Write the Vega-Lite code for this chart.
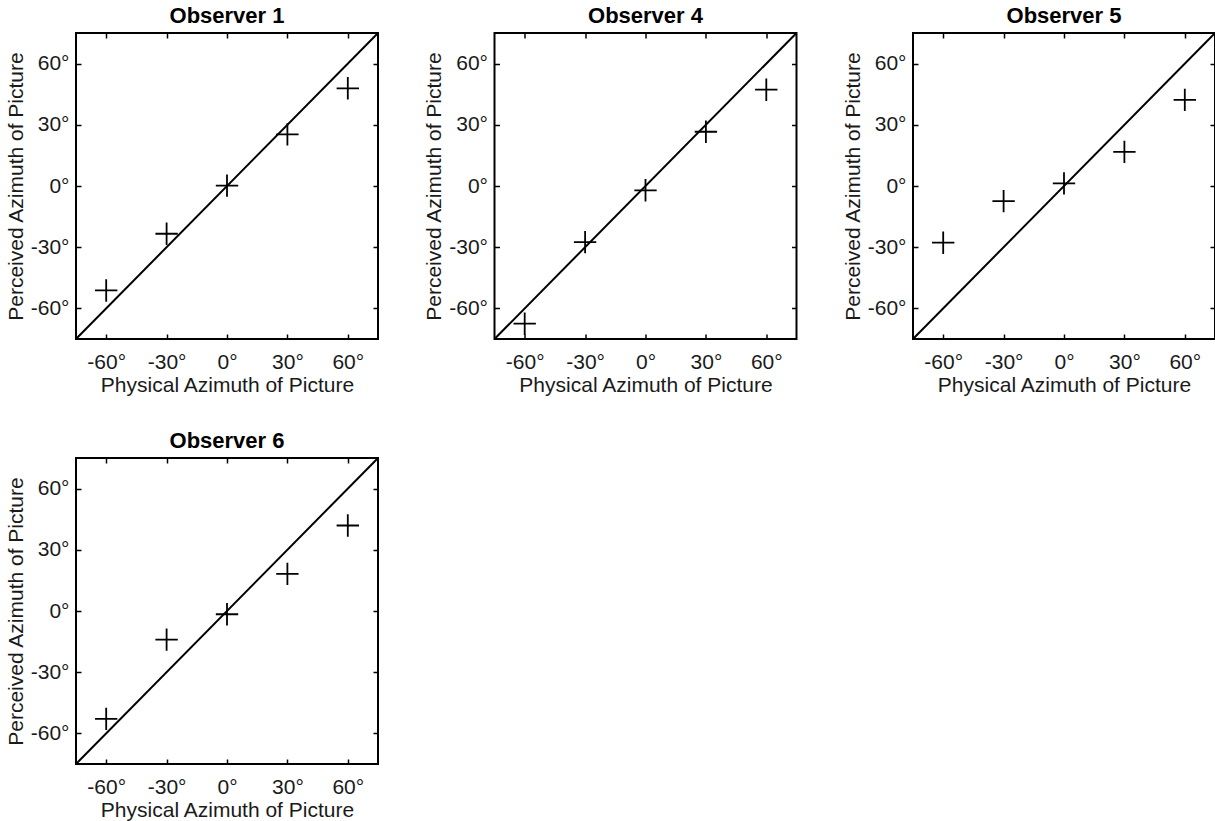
{
  "$schema": "https://vega.github.io/schema/vega-lite/v6.json",
  "padding": {"left": 4, "top": 4, "right": 0, "bottom": 0},
  "autosize": {"type": "pad"},
  "background": "white",
  "datasets": {
    "pts": [
      {"observer": "Observer 1", "physical": -60, "perceived": -51.2},
      {"observer": "Observer 1", "physical": -30, "perceived": -23.4},
      {"observer": "Observer 1", "physical": 0, "perceived": 0.2},
      {"observer": "Observer 1", "physical": 30, "perceived": 25.3},
      {"observer": "Observer 1", "physical": 60, "perceived": 47.9},
      {"observer": "Observer 4", "physical": -60, "perceived": -67.5},
      {"observer": "Observer 4", "physical": -30, "perceived": -27.5},
      {"observer": "Observer 4", "physical": 0, "perceived": -2.1},
      {"observer": "Observer 4", "physical": 30, "perceived": 26.6},
      {"observer": "Observer 4", "physical": 60, "perceived": 47.2},
      {"observer": "Observer 5", "physical": -60, "perceived": -27.8},
      {"observer": "Observer 5", "physical": -30, "perceived": -7.4},
      {"observer": "Observer 5", "physical": 0, "perceived": 1.3},
      {"observer": "Observer 5", "physical": 30, "perceived": 16.7},
      {"observer": "Observer 5", "physical": 60, "perceived": 42.2},
      {"observer": "Observer 6", "physical": -60, "perceived": -52.9},
      {"observer": "Observer 6", "physical": -30, "perceived": -14.0},
      {"observer": "Observer 6", "physical": 0, "perceived": -1.6},
      {"observer": "Observer 6", "physical": 30, "perceived": 18.2},
      {"observer": "Observer 6", "physical": 60, "perceived": 41.9}
    ],
    "diag": [
      {"physical": -75, "perceived": -75},
      {"physical": 75, "perceived": 75}
    ]
  },
  "columns": 3,
  "spacing": {"column": 42.5, "row": 33},
  "concat": [
    {
      "title": "Observer 1",
      "width": 302, "height": 306,
      "resolve": {"axis": {"x": "independent", "y": "independent"}},
      "layer": [
        {
          "data": {"name": "diag"},
          "mark": {"type": "line", "color": "black", "strokeWidth": 2, "clip": true},
          "encoding": {
            "x": {"field": "physical", "type": "quantitative", "scale": {"domain": [-75, 75], "nice": false, "zero": false}, "axis": {"title": "Physical Azimuth of Picture", "orient": "bottom", "values": [-60, -30, 0, 30, 60], "labelExpr": "datum.value + '°'", "labelFontSize": 21, "titleFontSize": 21, "tickSize": -5, "labelPadding": 17, "titlePadding": 2}},
            "y": {"field": "perceived", "type": "quantitative", "scale": {"domain": [-75, 75], "nice": false, "zero": false}, "axis": {"title": "Perceived Azimuth of Picture", "orient": "left", "values": [-60, -30, 0, 30, 60], "labelExpr": "datum.value + '°'", "labelFontSize": 21, "titleFontSize": 21, "tickSize": -5, "labelPadding": 12, "titlePadding": 4}}
          }
        },
        {
          "data": {"name": "pts"},
          "transform": [{"filter": "datum.observer === 'Observer 1'"}],
          "mark": {"type": "point", "shape": "M-1,0L1,0M0,-1L0,1", "size": 500, "color": "black", "filled": false, "strokeWidth": 1.8, "opacity": 1},
          "encoding": {
            "x": {"field": "physical", "type": "quantitative", "axis": {"orient": "top", "labels": false, "title": null, "values": [-60, -30, 0, 30, 60], "tickSize": -5}},
            "y": {"field": "perceived", "type": "quantitative", "axis": {"orient": "right", "labels": false, "title": null, "values": [-60, -30, 0, 30, 60], "tickSize": -5}}
          }
        }
      ]
    },
    {
      "title": "Observer 4",
      "width": 302, "height": 306,
      "resolve": {"axis": {"x": "independent", "y": "independent"}},
      "layer": [
        {
          "data": {"name": "diag"},
          "mark": {"type": "line", "color": "black", "strokeWidth": 2, "clip": true},
          "encoding": {
            "x": {"field": "physical", "type": "quantitative", "scale": {"domain": [-75, 75], "nice": false, "zero": false}, "axis": {"title": "Physical Azimuth of Picture", "orient": "bottom", "values": [-60, -30, 0, 30, 60], "labelExpr": "datum.value + '°'", "labelFontSize": 21, "titleFontSize": 21, "tickSize": -5, "labelPadding": 17, "titlePadding": 2}},
            "y": {"field": "perceived", "type": "quantitative", "scale": {"domain": [-75, 75], "nice": false, "zero": false}, "axis": {"title": "Perceived Azimuth of Picture", "orient": "left", "values": [-60, -30, 0, 30, 60], "labelExpr": "datum.value + '°'", "labelFontSize": 21, "titleFontSize": 21, "tickSize": -5, "labelPadding": 12, "titlePadding": 4}}
          }
        },
        {
          "data": {"name": "pts"},
          "transform": [{"filter": "datum.observer === 'Observer 4'"}],
          "mark": {"type": "point", "shape": "M-1,0L1,0M0,-1L0,1", "size": 500, "color": "black", "filled": false, "strokeWidth": 1.8, "opacity": 1},
          "encoding": {
            "x": {"field": "physical", "type": "quantitative", "axis": {"orient": "top", "labels": false, "title": null, "values": [-60, -30, 0, 30, 60], "tickSize": -5}},
            "y": {"field": "perceived", "type": "quantitative", "axis": {"orient": "right", "labels": false, "title": null, "values": [-60, -30, 0, 30, 60], "tickSize": -5}}
          }
        }
      ]
    },
    {
      "title": "Observer 5",
      "width": 302, "height": 306,
      "resolve": {"axis": {"x": "independent", "y": "independent"}},
      "layer": [
        {
          "data": {"name": "diag"},
          "mark": {"type": "line", "color": "black", "strokeWidth": 2, "clip": true},
          "encoding": {
            "x": {"field": "physical", "type": "quantitative", "scale": {"domain": [-75, 75], "nice": false, "zero": false}, "axis": {"title": "Physical Azimuth of Picture", "orient": "bottom", "values": [-60, -30, 0, 30, 60], "labelExpr": "datum.value + '°'", "labelFontSize": 21, "titleFontSize": 21, "tickSize": -5, "labelPadding": 17, "titlePadding": 2}},
            "y": {"field": "perceived", "type": "quantitative", "scale": {"domain": [-75, 75], "nice": false, "zero": false}, "axis": {"title": "Perceived Azimuth of Picture", "orient": "left", "values": [-60, -30, 0, 30, 60], "labelExpr": "datum.value + '°'", "labelFontSize": 21, "titleFontSize": 21, "tickSize": -5, "labelPadding": 12, "titlePadding": 4}}
          }
        },
        {
          "data": {"name": "pts"},
          "transform": [{"filter": "datum.observer === 'Observer 5'"}],
          "mark": {"type": "point", "shape": "M-1,0L1,0M0,-1L0,1", "size": 500, "color": "black", "filled": false, "strokeWidth": 1.8, "opacity": 1},
          "encoding": {
            "x": {"field": "physical", "type": "quantitative", "axis": {"orient": "top", "labels": false, "title": null, "values": [-60, -30, 0, 30, 60], "tickSize": -5}},
            "y": {"field": "perceived", "type": "quantitative", "axis": {"orient": "right", "labels": false, "title": null, "values": [-60, -30, 0, 30, 60], "tickSize": -5}}
          }
        }
      ]
    },
    {
      "title": "Observer 6",
      "width": 302, "height": 306,
      "resolve": {"axis": {"x": "independent", "y": "independent"}},
      "layer": [
        {
          "data": {"name": "diag"},
          "mark": {"type": "line", "color": "black", "strokeWidth": 2, "clip": true},
          "encoding": {
            "x": {"field": "physical", "type": "quantitative", "scale": {"domain": [-75, 75], "nice": false, "zero": false}, "axis": {"title": "Physical Azimuth of Picture", "orient": "bottom", "values": [-60, -30, 0, 30, 60], "labelExpr": "datum.value + '°'", "labelFontSize": 21, "titleFontSize": 21, "tickSize": -5, "labelPadding": 17, "titlePadding": 2}},
            "y": {"field": "perceived", "type": "quantitative", "scale": {"domain": [-75, 75], "nice": false, "zero": false}, "axis": {"title": "Perceived Azimuth of Picture", "orient": "left", "values": [-60, -30, 0, 30, 60], "labelExpr": "datum.value + '°'", "labelFontSize": 21, "titleFontSize": 21, "tickSize": -5, "labelPadding": 12, "titlePadding": 4}}
          }
        },
        {
          "data": {"name": "pts"},
          "transform": [{"filter": "datum.observer === 'Observer 6'"}],
          "mark": {"type": "point", "shape": "M-1,0L1,0M0,-1L0,1", "size": 500, "color": "black", "filled": false, "strokeWidth": 1.8, "opacity": 1},
          "encoding": {
            "x": {"field": "physical", "type": "quantitative", "axis": {"orient": "top", "labels": false, "title": null, "values": [-60, -30, 0, 30, 60], "tickSize": -5}},
            "y": {"field": "perceived", "type": "quantitative", "axis": {"orient": "right", "labels": false, "title": null, "values": [-60, -30, 0, 30, 60], "tickSize": -5}}
          }
        }
      ]
    }
  ],
  "config": {
    "font": "Liberation Sans",
    "view": {"stroke": "black", "strokeWidth": 2},
    "title": {"fontSize": 22, "fontWeight": "bold", "color": "black", "offset": 4, "anchor": "middle"},
    "axis": {
      "grid": false,
      "domain": false,
      "ticks": true,
      "tickColor": "black",
      "tickWidth": 1.5,
      "labelColor": "#1a1a1a",
      "titleFontWeight": "normal",
      "titleColor": "#1a1a1a"
    }
  }
}
